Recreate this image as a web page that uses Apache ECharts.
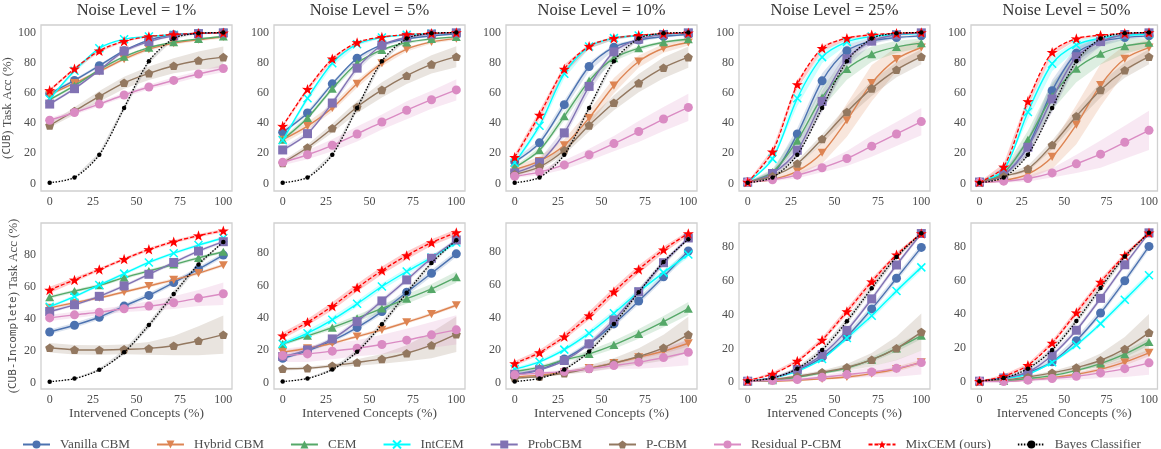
<!DOCTYPE html>
<html><head><meta charset="utf-8">
<script src="https://cdn.jsdelivr.net/npm/echarts@6/dist/echarts.min.js"></script>
<style>html,body{margin:0;padding:0;background:#fff}#c{width:1161px;height:449px}</style>
</head><body><div id="c"></div>
<script>
// ---------- DATA ----------
const xs = [0, 14.29, 28.57, 42.86, 57.14, 71.43, 85.71, 100];
const panelTitles = ['Noise Level = 1%', 'Noise Level = 5%', 'Noise Level = 10%', 'Noise Level = 25%', 'Noise Level = 50%'];
const rowNames = ['({m|CUB}) Task Acc (%)', '({m|CUB-Incomplete}) Task Acc (%)'];
const xName = 'Intervened Concepts (%)';
const seriesNames = ['Vanilla CBM', 'Hybrid CBM', 'CEM', 'IntCEM', 'ProbCBM', 'P-CBM', 'Residual P-CBM', 'MixCEM (ours)', 'Bayes Classifier'];
// rows 0-4: CUB (noise 1,5,10,25,50%), rows 5-9: CUB-Incomplete
const vanilla = [
 [59.5, 68.3, 78, 88, 95, 98.5, 99.5, 99.8],
 [34, 46.7, 66, 83, 91.8, 95.8, 97.8, 99],
 [14.3, 26.9, 52.2, 77.5, 90.3, 95, 97.4, 98.7],
 [0.9, 6, 32.8, 68, 87.9, 94.5, 96.7, 97.8],
 [0.9, 5.5, 24.7, 61.5, 86.3, 94, 96.7, 97.8],
 [31.7, 35.9, 40.9, 47.9, 54.6, 62.6, 71, 79.8],
 [15, 19.6, 26, 34, 43.9, 55.9, 67.6, 79.6],
 [4.7, 7.8, 14.5, 23.7, 36, 50.1, 65, 80.8],
 [0.6, 2.5, 7, 14.7, 27, 43.3, 61.4, 79.6],
 [0.6, 2.2, 5.7, 12, 24.5, 40.8, 59.8, 80]];
const hybrid = [
 [58.8, 66.5, 74.2, 82.4, 89, 93, 95.2, 97],
 [29, 38, 50, 66, 79.7, 89, 93.8, 96],
 [9.3, 14.8, 25.3, 43.4, 64.8, 80.8, 89.6, 93.4],
 [0.9, 2.6, 8.1, 20.3, 41.9, 66.5, 82.4, 90.1],
 [0.9, 2, 6.2, 17.6, 39, 65.2, 82.6, 90],
 [46.8, 50, 53.1, 56.7, 60.5, 64.3, 68.5, 73.5],
 [18.8, 21.2, 24.3, 28.5, 32.6, 37.3, 42.3, 47.8],
 [3.3, 4.5, 6.3, 8.8, 11.9, 15.5, 19.2, 24.1],
 [0.6, 0.6, 1.2, 2, 3.1, 5.1, 7.8, 11.8],
 [0.6, 0.6, 1.4, 2.7, 4.7, 7.6, 11.8, 17.3]];
const cem = [
 [55.5, 64.8, 75.3, 84, 90, 93.6, 95.8, 97.4],
 [29, 43.4, 62.8, 79.7, 88.5, 93.4, 95.8, 97.1],
 [10.6, 22, 44.5, 68, 83, 89.6, 93.6, 95.6],
 [0.9, 7.5, 28.4, 57, 75.8, 85.7, 90.5, 93],
 [0.9, 7, 29, 57.7, 76, 85.9, 91, 93.2],
 [53.5, 57.3, 60.9, 65.7, 69.9, 73.9, 78.1, 81.9],
 [23.9, 28.9, 34, 39.8, 45.8, 51.8, 57.9, 65.2],
 [6.7, 9.4, 13.9, 17.6, 23.1, 29.9, 37.4, 45.4],
 [0.6, 1.2, 2.9, 5.5, 8.4, 13.3, 20, 27.5],
 [0.6, 0.8, 2.2, 3.9, 7, 11, 16.5, 23.7]];
const intcem = [
 [56, 74.7, 89.6, 95.6, 97.4, 98.5, 99.3, 99.6],
 [28.6, 56.4, 79.7, 92.3, 96.7, 98.5, 99.3, 99.7],
 [13.7, 38.3, 72.7, 90.7, 96.3, 98, 99, 99.6],
 [0.9, 16.3, 56.4, 83.7, 93.8, 97.4, 98.7, 99.3],
 [0.9, 8.8, 47.4, 79.3, 91.8, 96.3, 98, 99],
 [47.5, 53.8, 61.1, 68.2, 75.2, 81, 86.1, 90.5],
 [23.9, 30.5, 38.8, 48.7, 59.4, 68.7, 77.3, 86.6],
 [8.2, 12.7, 20.2, 30.3, 42.5, 55.8, 67.5, 78.7],
 [0.6, 2.4, 6.5, 13.7, 26.1, 39.2, 53.9, 67.8],
 [0.6, 2, 4.7, 11.8, 22, 34.5, 48.6, 63]];
const probcbm = [
 [52.6, 62.8, 75, 87.7, 94, 97.8, 99.3, 99.8],
 [22.2, 33, 53.3, 76.4, 91.6, 96.9, 99, 99.8],
 [7, 14, 33.5, 64.3, 87.2, 95.6, 98.7, 99.8],
 [0.9, 6.6, 22, 54.4, 82.6, 94.3, 98.5, 99.8],
 [0.9, 5.7, 24, 56, 84, 94, 98.7, 99.8],
 [44.5, 48.7, 54, 60.5, 67.8, 75.2, 82.3, 88.2],
 [16.1, 20.2, 27, 37.7, 50.5, 63.5, 76.9, 88.2],
 [5.1, 7.8, 13.5, 23.7, 38.4, 55.8, 73.6, 88.8],
 [0.6, 2.5, 7.5, 16.3, 30.6, 49.2, 69.2, 87.8],
 [0.6, 2.5, 6, 15.9, 30.6, 49.4, 69.2, 88]];
const pcbm = [
 [38.5, 48, 57.7, 66.7, 73, 78, 81.5, 83.7],
 [13.6, 23.8, 36.6, 50.7, 62, 71.4, 78.9, 84],
 [6, 11, 22, 38.5, 53.5, 66.5, 76.7, 83.7],
 [0.9, 4.8, 13.2, 29.5, 47.4, 63, 75.3, 84],
 [0.9, 4.8, 9.7, 25.5, 44.5, 62, 75, 84],
 [21.8, 20.6, 20.4, 20.8, 21.4, 23.1, 26.2, 30],
 [8.5, 8.9, 10.3, 12.4, 14.6, 18.1, 23.1, 29.9],
 [2.7, 3.7, 5.7, 8.6, 11.9, 16, 21.3, 29.4],
 [0.6, 1.6, 3.5, 5.9, 8.8, 13.3, 20, 29.6],
 [0.6, 1.2, 3.1, 5.5, 8.6, 12.9, 19.6, 29.2]];
const residual = [
 [41.9, 47, 52.6, 58.6, 63.9, 68.3, 72.5, 76.2],
 [14, 19, 25.3, 32.8, 40.7, 48.5, 55.5, 62],
 [4.8, 7.5, 12.3, 19, 26.4, 34.4, 42.7, 50.4],
 [0.9, 2.4, 5.5, 10.4, 16.5, 24.7, 32.8, 41],
 [0.9, 1.5, 3.3, 7, 13, 19.4, 27.3, 35.2],
 [40.5, 42.4, 44.1, 46.2, 47.9, 50, 52.9, 55.6],
 [16.7, 17.7, 19.4, 21.2, 23.5, 26.2, 29.5, 32.6],
 [4.7, 5.7, 6.7, 8.4, 10.4, 12.5, 15.3, 18.6],
 [0.6, 1, 1.6, 2.9, 4.5, 6.1, 8.2, 11.6],
 [0.6, 0.4, 1.2, 2.2, 3.5, 5.5, 8, 11.4]];
const mixcem = [
 [61.7, 76, 87.9, 94.3, 97.4, 98.7, 99.5, 99.8],
 [38, 62.5, 82.6, 93.4, 97, 98.7, 99.5, 100],
 [17.4, 45.4, 75.8, 91, 96.3, 98.2, 99.3, 99.8],
 [0.9, 21, 65.6, 89.6, 96.3, 98.5, 99.5, 100],
 [0.9, 11, 54.4, 87, 96, 98.2, 99.5, 100],
 [58, 64.3, 70.8, 77.3, 83.4, 88.2, 92, 95.1],
 [29, 37.3, 47.2, 58.6, 69.3, 78.6, 86.6, 92.8],
 [11.7, 18.4, 28.2, 41.1, 55.8, 69.5, 81.6, 91.6],
 [1, 4.9, 12.5, 24.9, 41.8, 59.4, 75.3, 87.8],
 [0.6, 3.5, 10, 23.1, 41, 59, 74.7, 88]];
const bayes = [
 [0.5, 4, 19, 50, 81, 96, 99.5, 100],
 [0.5, 4, 19, 50, 81, 96, 99.5, 100],
 [0.5, 4, 19, 50, 81, 96, 99.5, 100],
 [0.5, 4, 19, 50, 81, 96, 99.5, 100],
 [0.5, 4, 19, 50, 81, 96, 99.5, 100],
 [0.6, 2.5, 8, 19, 36, 55.5, 74, 88],
 [0.6, 2.5, 8, 19, 36, 55.5, 74, 88],
 [0.6, 2.5, 8, 19, 36, 55.5, 74, 88],
 [0.6, 2.5, 8, 19, 36, 55.5, 74, 88],
 [0.6, 2.5, 8, 19, 36, 55.5, 74, 88]];
// half-widths of the shaded spread around each curve
const vanillaBand = [
 [1,1,1,1,0.8,0.5,0.3,0.2],[1.5,1.5,1.5,1.5,1,0.8,0.5,0.3],[1.5,2,3,3,2,1,0.8,0.5],[0.3,2,4,5,4,2,1,0.8],[0.3,2,5,7,5,3,1.5,1],
 [1.5,1.5,1.5,1.5,1.5,1.5,1.5,1.5],[1,1,1.5,1.5,2,2,2,2],[1,1,1,1.5,2,2,2,2],[0.3,0.5,1,1.5,2,2,2,2],[0.3,0.5,1,1.5,2,2,2,2]];
const hybridBand = [
 [1,1,1,1,1,1,1,1],[2.5,2.5,2.5,2.5,2,1.5,1,1],[2,3,4,5,5,4,3,2],[0.3,1,3,7,11,12,8,5],[0.3,1,3,8,13,14,9,5],
 [1,1,1,1,1,1,1,1],[1,1,1,1,1,1,1,1],[0.5,0.5,0.5,0.5,1,1,1.5,2],[0.3,0.3,0.5,0.5,1,1,1.5,1.5],[0.3,0.3,0.5,0.5,1,1.5,2,2]];
const cemBand = [
 [1,1,1,1,1,0.8,0.5,0.5],[1.5,1.5,1.5,1.5,1,1,0.8,0.5],[1,2,3,3,2,1.5,1,1],[0.3,2,5,7,7,5,4,3],[0.3,2,6,9,9,7,5,3],
 [1,1,1,1,1,1,1,1],[1,1,1.5,2,2.5,3,3,3.5],[1,1,1,2,2.5,3,3.5,4],[0.3,0.5,0.5,1,1,1.5,2,2],[0.3,0.5,0.5,1,1,1.5,2,2]];
const intcemBand = [
 [1,1.5,1,0.5,0.5,0.3,0.2,0.2],[1,2,2,1,0.5,0.3,0.2,0.2],[2,3,3,1.5,1,0.5,0.3,0.2],[0.3,2,5,4,2,1,0.5,0.3],[0.3,2,5,5,3,2,1,0.5],
 [1,1,1,1,1,1,1,1],[1.5,2,2,2,2,2,1.5,1.5],[1,1,1.5,2,2,2,2,2],[0.3,0.5,1,1,1.5,2,2,2],[0.3,0.5,0.5,1,1.5,1.5,2,2]];
const probcbmBand = [
 [1,1,1,1,0.8,0.5,0.3,0.2],[1.5,1.5,2,2,1,0.5,0.3,0.2],[1.5,2,3,4,2,1,0.5,0.3],[0.3,2,5,7,5,2,1,0.5],[0.3,2,6,9,6,3,1,0.5],
 [1,1,1,1,1,1,1,1],[1,1,1,1.5,1.5,1.5,1.5,1],[1,1,1,1.5,2,2,2,1],[0.3,0.5,1,1.5,1.5,1.5,1.5,1],[0.3,0.5,1,1.5,1.5,1.5,1.5,1]];
const pcbmBand = [
 [1.5,2.5,3.5,4,4.5,5,6,7],[1.5,2,3,4,5,5.5,6,7],[1,2,3,4,5,6,7,7],[0.3,1,2,3,4,5,5,5],[0.3,1,2,3,4,5,5,5],
 [3,3,3,3,4,6,9,12],[1,1,1,2,3,5,8,11],[0.5,0.5,1,2,3,5,8,11],[0.3,0.5,1,1,2,4,7,11],[0.3,0.5,1,1,2,4,7,11]];
const residualBand = [
 [1.5,1.5,1.5,1.5,1.5,2,2,2.5],[2,3,4,5,5,6,6,7],[1,2,3,4,5,7,8,9],[0.3,1,2,3,5,7,8,9],[0.3,1,2,3,6,9,11,13],
 [2,2,2,2,3,4,5,7],[4,5,5,5,6,7,8,9],[1,1,1,2,2,4,6,8],[0.3,0.5,1,1,2,3,5,7],[0.3,0.5,1,1,2,3,5,7]];
const mixcemBand = [
 [1,1,1,0.5,0.3,0.2,0.2,0.2],[1,1.5,1.5,1,0.5,0.3,0.2,0.2],[2,3,3,1.5,1,0.5,0.3,0.2],[0.3,2,3,2,1,0.5,0.3,0.2],[0.3,2,3,2,1,0.5,0.3,0.2],
 [2,1.5,1,1,1,1,1,1],[2,2,2.5,2.5,2.5,2.5,2,2],[1.5,1.5,2,2.5,2.5,2.5,2,1.5],[0.3,1,1,1.5,2,2,1.5,1],[0.3,1,1,1.5,2,2,1.5,1]];
const bayesBand = [
 [0,0.3,1.5,2,1.5,0.5,0.2,0],[0,0.3,1.5,2,1.5,0.5,0.2,0],[0,0.3,1.5,2,1.5,0.5,0.2,0],[0,0.3,1.5,2,1.5,0.5,0.2,0],[0,0.3,1.5,2,1.5,0.5,0.2,0],
 [0,0.3,0.8,1.5,2,2,1.5,0.5],[0,0.3,0.8,1.5,2,2,1.5,0.5],[0,0.3,0.8,1.5,2,2,1.5,0.5],[0,0.3,0.8,1.5,2,2,1.5,0.5],[0,0.3,0.8,1.5,2,2,1.5,0.5]];

// ---------- STYLE / LAYOUT ----------
const SERIF = 'Liberation Serif';
const MONO = 'DejaVu Sans Mono';
const lefts = [41, 274, 506, 739, 971];
const tops = [25, 223];
const PW = 191, PH = 166;
const yRange = [[-5,105],[-5,105],[-5,105],[-5,105],[-5,105],[-4,99.9],[-4,98.7],[-4,98],[-4,94],[-4,93.8]];
const STAR = 'path://M50,0 L61.8,35.1 L97.6,34.5 L69.1,56.7 L79.4,90.9 L50,70 L20.6,90.9 L30.9,56.7 L2.4,34.5 L38.2,35.1 Z';
const PENT = 'path://M50,0 L97.6,34.5 L79.4,90.5 L20.6,90.5 L2.4,34.5 Z';
const TRIDOWN = 'path://M0,0 L10,0 L5,9 Z';
const TRIUP = 'path://M5,0 L10,9 L0,9 Z';
const XMARK = 'path://M0,0 L10,10 M10,0 L0,10';
const defs = [
 {name: seriesNames[0], data: vanilla, band: vanillaBand, color:'#4C72B0', symbol:'circle', size:9, type:'solid', w:1.4},
 {name: seriesNames[1], data: hybrid, band: hybridBand, color:'#DD8452', symbol:TRIDOWN, size:9, type:'solid', w:1.4},
 {name: seriesNames[2], data: cem, band: cemBand, color:'#55A868', symbol:TRIUP, size:9, type:'solid', w:1.4},
 {name: seriesNames[3], data: intcem, band: intcemBand, color:'#00FFFF', symbol:XMARK, size:8, type:'solid', w:1.4, stroke:true},
 {name: seriesNames[4], data: probcbm, band: probcbmBand, color:'#8172B3', symbol:'rect', size:9, type:'solid', w:1.4},
 {name: seriesNames[5], data: pcbm, band: pcbmBand, color:'#937860', symbol:PENT, size:9, type:'solid', w:1.4},
 {name: seriesNames[6], data: residual, band: residualBand, color:'#DA8BC3', symbol:'circle', size:9, type:'solid', w:1.4},
 {name: seriesNames[7], data: mixcem, band: mixcemBand, color:'#FF0000', symbol:STAR, size:11, type:[4,2], w:1.3},
 {name: seriesNames[8], data: bayes, band: bayesBand, color:'#000000', symbol:'circle', size:4.5, type:[1.5,1.5], w:1.3, bandColor:'#666666'}
];

const grids = [], xAxes = [], yAxes = [], series = [], titles = [];
const labelStyle = {fontFamily: SERIF, fontSize: 12, color: '#4d4d4d'};
for (let p = 0; p < 10; p++) {
  const row = p < 5 ? 0 : 1, col = p % 5;
  grids.push({left: lefts[col], top: tops[row], width: PW, height: PH, show: true,
    borderColor: '#d0d0d0', borderWidth: 1.3, backgroundColor: '#fff', containLabel: false});
  xAxes.push({type: 'value', gridIndex: p, min: -5, max: 105, interval: 1,
    axisLine: {show: false}, axisTick: {show: false}, splitLine: {show: false},
    axisLabel: Object.assign({margin: 5, formatter: v => (Math.abs(v % 25) < 1e-6 && v >= 0 && v <= 100) ? String(Math.round(v)) : ''}, labelStyle),
    name: row === 1 ? xName : '', nameLocation: 'middle', nameGap: 15,
    nameTextStyle: {fontFamily: SERIF, fontSize: 13.5, color: '#4d4d4d'}});
  const maxLab = row === 0 ? 100 : 80;
  yAxes.push({type: 'value', gridIndex: p, min: yRange[p][0], max: yRange[p][1], interval: 1,
    axisLine: {show: false}, axisTick: {show: false}, splitLine: {show: false},
    axisLabel: Object.assign({margin: 5, formatter: v => (Math.abs(v % 20) < 1e-6 && v >= 0 && v <= maxLab) ? String(Math.round(v)) : ''}, labelStyle),
    name: col === 0 ? rowNames[row] : '', nameLocation: 'middle', nameGap: 18, nameRotate: 90,
    nameTextStyle: {fontFamily: SERIF, fontSize: 12.8, color: '#4d4d4d',
      rich: {m: {fontFamily: MONO, fontSize: 11, color: '#4d4d4d'}}}});
  // shaded spread bands: one polygon per curve, positioned through the panel's axes
  series.push({type: 'custom', xAxisIndex: p, yAxisIndex: p, silent: true, z: 1,
    data: defs.map((d, k) => [k, 0]), encode: {x: 0, y: 1},
    renderItem: (params, api) => {
      const d = defs[params.dataIndex];
      const mid = d.data[p], hw = d.band[p];
      const up = xs.map((x, i) => api.coord([x, mid[i] + hw[i]]));
      const lo = xs.map((x, i) => api.coord([x, mid[i] - hw[i]])).reverse();
      return {type: 'polygon', shape: {points: up.concat(lo)},
        style: {fill: d.bandColor || d.color, opacity: 0.2}, silent: true};
    }});
  defs.forEach((d, k) => {
    series.push({type: 'line', name: d.name, xAxisIndex: p, yAxisIndex: p,
      data: xs.map((x, i) => [x, d.data[p][i]]), smooth: 0.3,
      symbol: d.symbol, symbolSize: d.size, symbolKeepAspect: true, showAllSymbol: true,
      lineStyle: {color: d.color, width: d.w, type: d.type},
      itemStyle: d.stroke ? {color: d.color, borderColor: d.color, borderWidth: 1.5} : {color: d.color},
      z: 2 + k * 0.01});
  });
}
for (let c = 0; c < 5; c++) {
  titles.push({text: panelTitles[c], left: lefts[c] + PW / 2, top: 2, textAlign: 'center', padding: 0,
    textStyle: {fontFamily: SERIF, fontSize: 16.5, fontWeight: 'normal', color: '#333'}});
}

const chart = echarts.init(document.getElementById('c'), null, {renderer: 'canvas'});
chart.setOption({
  animation: false,
  backgroundColor: '#fff',
  title: titles,
  grid: grids, xAxis: xAxes, yAxis: yAxes, series: series,
  legend: {data: seriesNames, left: 17, top: 433, width: 1150, itemWidth: 27, itemHeight: 10, itemGap: 26,
    textStyle: {fontFamily: SERIF, fontSize: 13.2, color: '#4d4d4d', padding: [0, 0, 0, 5]}, selectedMode: false}
});
</script></body></html>
